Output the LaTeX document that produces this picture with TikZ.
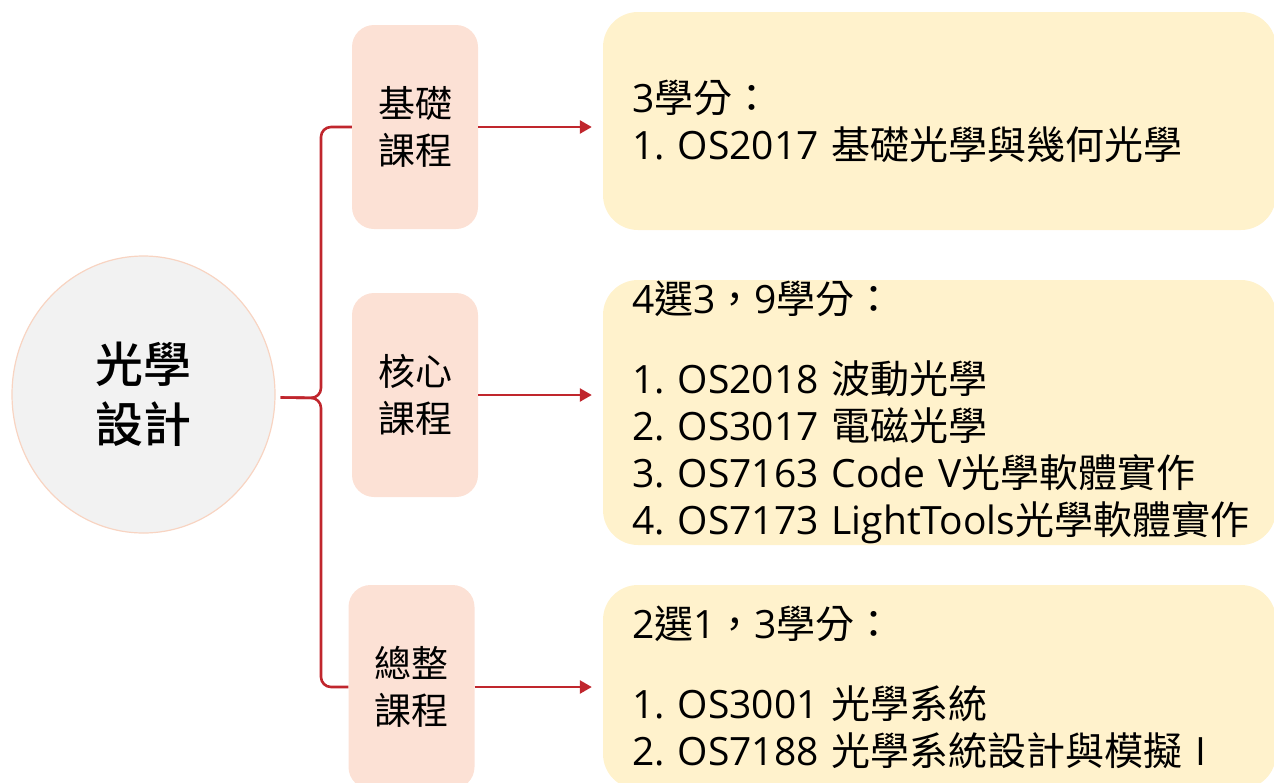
\documentclass[tikz,border=0pt]{standalone}
\usepackage{fontspec}
\setmainfont{Open Sans}
\newfontfamily\cjk{Noto Sans CJK TC}
\newfontfamily\cjkb{Noto Sans CJK TC Medium}
\usetikzlibrary{arrows.meta,shapes.geometric}
\definecolor{pinkfill}{RGB}{252,225,213}
\definecolor{yellowfill}{RGB}{255,242,204}
\definecolor{circfill}{RGB}{242,242,242}
\definecolor{circline}{RGB}{248,212,194}
\definecolor{redline}{RGB}{192,38,45}
\frenchspacing
\begin{document}
\begin{tikzpicture}[x=1pt,y=-1pt,
  hub/.style={ellipse, fill=circfill, draw=circline, line width=1.2pt,
    minimum width=263pt, minimum height=277pt, inner sep=0pt, align=center,
    font=\fontsize{48}{60}\selectfont\cjkb},
  catbox/.style={rectangle, rounded corners=22pt, fill=pinkfill,
    minimum width=126pt, minimum height=204pt, inner sep=0pt, align=center,
    font=\fontsize{37}{47}\selectfont\cjk},
  listbox/.style={rectangle, rounded corners=35pt, fill=yellowfill,
    text width=615pt, inner xsep=29pt, inner ysep=0pt, align=left,
    font=\fontsize{39}{47}\selectfont},
  link/.style={draw=redline, line width=2.6pt},
  bracelink/.style={link, rounded corners=10pt},
  arrowlink/.style={link, -{Triangle[length=12pt,width=13pt]}, shorten >=11pt}]
\useasboundingbox (0,0) rectangle (1274,782);

\node[hub] (c) at (143.5,394.5) {光學\\設計};

\node[catbox] (b1) at (415,127) {基礎\\課程};
\node[catbox] (b2) at (415,395) {核心\\課程};
\node[catbox] (b3) at (411.5,687) {總整\\課程};

\node[listbox, minimum height=218pt] (y1) at (939.5,121)
  {3{\cjk 學分：}\\
   \mbox{1. OS2017 {\cjk 基礎光學與幾何光學}}};
\node[listbox, minimum height=265pt] (y2) at (939.5,412.5)
  {4{\cjk 選}3{\cjk ，}9{\cjk 學分：}\\[33pt]
   \mbox{1. OS2018 {\cjk 波動光學}}\\
   \mbox{2. OS3017 {\cjk 電磁光學}}\\
   \mbox{3. OS7163 Code V{\cjk 光學軟體實作}}\\
   \mbox{4. OS7173 LightTools{\cjk 光學軟體實作}}};
\node[listbox, minimum height=204pt] (y3) at (939.5,687)
  {2{\cjk 選}1{\cjk ，}3{\cjk 學分：}\\[33pt]
   \mbox{1. OS3001 {\cjk 光學系統}}\\
   \mbox{2. OS7188 {\cjk 光學系統設計與模擬} I}};

\coordinate (tip) at ([xshift=5pt,yshift=-3pt]c.east);
\coordinate (brace) at (321,398);

\draw[bracelink] (b1.west) -| (brace) -- (tip);
\draw[bracelink] (b3.west) -| (brace) -- (tip);

\draw[arrowlink] (b1.east) -- (b1.east -| y1.west);
\draw[arrowlink] (b2.east) -- (b2.east -| y2.west);
\draw[arrowlink] (b3.east) -- (b3.east -| y3.west);
\end{tikzpicture}
\end{document}
